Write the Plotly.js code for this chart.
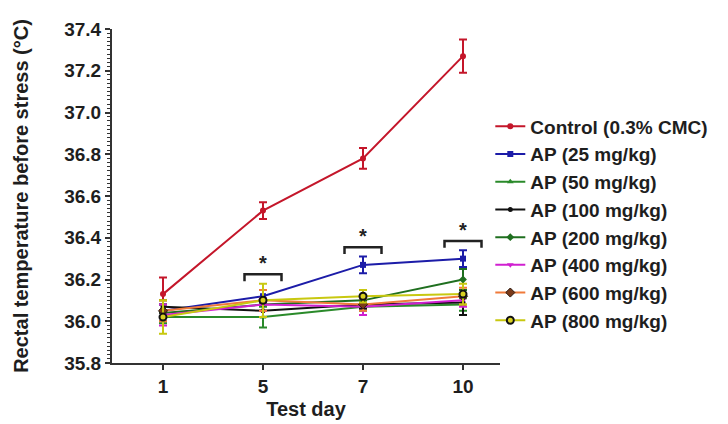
<!DOCTYPE html>
<html>
<head>
<meta charset="utf-8">
<script src="https://cdn.plot.ly/plotly-3.0.1.min.js"></script>
<style>
  html, body { margin: 0; padding: 0; background: #fff; }
  #chart { width: 728px; height: 424px; }
</style>
</head>
<body>
<div id="chart"></div>
<script>
// Test days (categorical, evenly spaced)
const days = ["1", "5", "7", "10"];

// Group names
const groups = [
  "Control (0.3% CMC)", "AP (25 mg/kg)", "AP (50 mg/kg)", "AP (100 mg/kg)",
  "AP (200 mg/kg)", "AP (400 mg/kg)", "AP (600 mg/kg)", "AP (800 mg/kg)"
];

// Mean rectal temperature (°C) per group
const control = [36.13, 36.53, 36.78, 37.27];
const ap25    = [36.05, 36.12, 36.27, 36.30];
const ap50    = [36.02, 36.02, 36.07, 36.08];
const ap100   = [36.07, 36.05, 36.08, 36.09];
const ap200   = [36.04, 36.08, 36.10, 36.20];
const ap400   = [36.03, 36.08, 36.07, 36.10];
const ap600   = [36.05, 36.10, 36.08, 36.12];
const ap800   = [36.02, 36.10, 36.12, 36.13];

// Standard errors
const controlErr = [0.08, 0.04, 0.05, 0.08];
const ap25Err    = [0.03, 0.03, 0.04, 0.04];
const ap50Err    = [0.03, 0.05, 0.02, 0.03];
const ap100Err   = [0.03, 0.03, 0.02, 0.06];
const ap200Err   = [0.04, 0.03, 0.02, 0.05];
const ap400Err   = [0.05, 0.03, 0.04, 0.03];
const ap600Err   = [0.05, 0.05, 0.03, 0.04];
const ap800Err   = [0.08, 0.08, 0.03, 0.05];

// Days with a significant difference (*)
const sigDays = ["5", "7", "10"];

const series = [control, ap25, ap50, ap100, ap200, ap400, ap600, ap800];
const errors = [controlErr, ap25Err, ap50Err, ap100Err, ap200Err, ap400Err, ap600Err, ap800Err];

const FONT = "Liberation Sans, Arial, sans-serif";
const INK = "#1e1e1e";

const styles = [
  { line: "#c4162a", marker: { symbol: "circle", color: "#c4162a", size: 6 } },
  { line: "#1c1ca8", marker: { symbol: "square", color: "#1c1ca8", size: 6 } },
  { line: "#2a8a2a", marker: { symbol: "triangle-up", color: "#2a8a2a", size: 6 } },
  { line: "#111111", marker: { symbol: "circle", color: "#111111", size: 5 } },
  { line: "#1f6f1f", marker: { symbol: "diamond", color: "#1f6f1f", size: 6 } },
  { line: "#d020d0", marker: { symbol: "triangle-down", color: "#d020d0", size: 6 } },
  { line: "#f07a3a", marker: { symbol: "diamond", color: "#7a3a1a", size: 7, line: { color: "#2a1a10", width: 1 } } },
  { line: "#c8c810", marker: { symbol: "circle", color: "#d8d020", size: 7, line: { color: "#111111", width: 2 } } }
];

const traces = series.map((vals, i) => ({
  type: "scatter",
  mode: "lines+markers",
  name: groups[i],
  legendgroup: "g" + i,
  x: days,
  y: vals,
  line: { color: styles[i].line, width: 2 },
  marker: styles[i].marker,
  error_y: { type: "data", array: errors[i], visible: true, color: styles[i].line, thickness: 2, width: 4 }
}));

// Significance brackets above the treated groups
const shapes = [];
const annotations = [];
sigDays.forEach(d => {
  const idx = days.indexOf(d);
  let top = -Infinity;
  for (let s = 1; s < series.length; s++) {
    top = Math.max(top, series[s][idx] + errors[s][idx]);
  }
  const yTop = top + 0.045;
  const yLeg = yTop - 0.033;
  const half = 0.185;
  shapes.push({
    type: "path", xref: "x", yref: "y",
    path: `M ${idx - half} ${yLeg} L ${idx - half} ${yTop} L ${idx + half} ${yTop} L ${idx + half} ${yLeg}`,
    line: { color: "#222", width: 2.5 }
  });
  annotations.push({
    x: idx, y: yTop, xref: "x", yref: "y", text: "*", showarrow: false,
    yanchor: "bottom", yshift: -2,
    font: { family: FONT, size: 20, weight: "bold", color: "#222" }
  });
});

const layout = {
  width: 728, height: 424,
  margin: { l: 112, r: 228, t: 29, b: 61 },
  paper_bgcolor: "#fff", plot_bgcolor: "#fff",
  font: { family: FONT, color: INK },
  showlegend: true,
  legend: {
    x: 0.975, y: 0.765, xanchor: "left", yanchor: "top",
    font: { size: 19, family: FONT, weight: "bold", color: INK },
    tracegroupgap: 0, itemwidth: 30,
    bgcolor: "rgba(0,0,0,0)"
  },
  xaxis: {
    type: "category",
    range: [-0.51, 3.37],
    showline: true, linecolor: "#333", linewidth: 2,
    ticks: "outside", ticklen: 5, tickwidth: 2, tickcolor: "#333",
    showgrid: false, zeroline: false,
    tickfont: { size: 19, weight: "bold", color: INK },
    title: { text: "Test day", font: { size: 20, weight: "bold", color: INK }, standoff: 6 }
  },
  yaxis: {
    range: [35.8, 37.4],
    dtick: 0.2, tickformat: ".1f",
    showline: true, linecolor: "#333", linewidth: 2,
    ticks: "outside", ticklen: 5, tickwidth: 2, tickcolor: "#333",
    minor: { dtick: 0.02, ticks: "outside", ticklen: 3, tickwidth: 1, tickcolor: "#333", showgrid: false },
    showgrid: false, zeroline: false,
    tickfont: { size: 19, weight: "bold", color: INK },
    title: { text: "Rectal temperature before stress (°C)", font: { size: 20, weight: "bold", color: INK }, standoff: 30 }
  },
  shapes: shapes,
  annotations: annotations
};

Plotly.newPlot("chart", traces, layout, { displayModeBar: false, staticPlot: true });
</script>
</body>
</html>
